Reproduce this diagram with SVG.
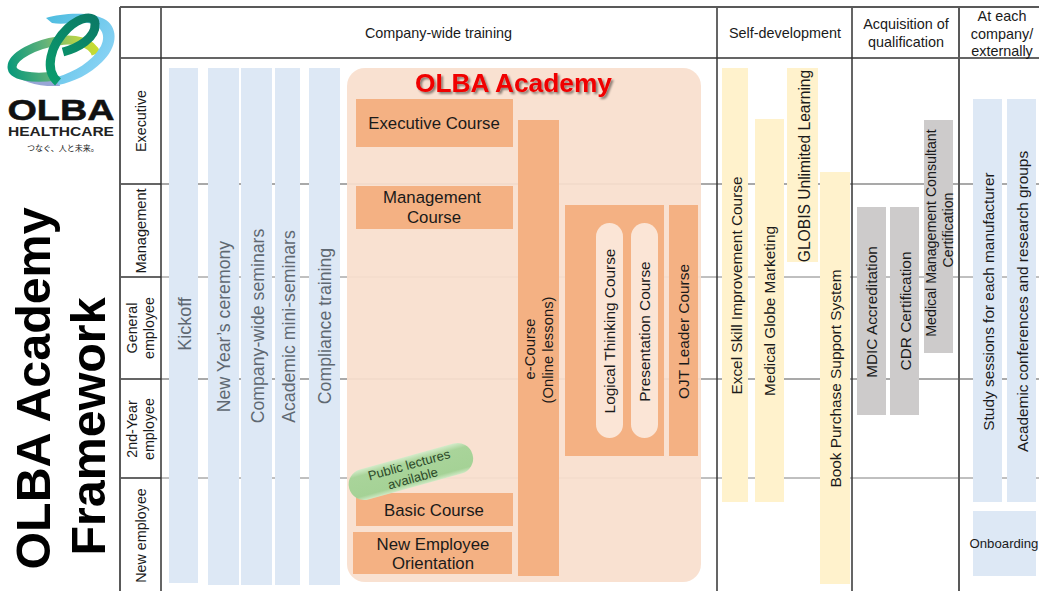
<svg xmlns="http://www.w3.org/2000/svg" width="1039" height="591" viewBox="0 0 1039 591">
<defs>
<filter id="sh" x="-10%" y="-30%" width="120%" height="160%"><feDropShadow dx="2" dy="2" stdDeviation="1.2" flood-color="#000" flood-opacity=".45"/></filter>
<linearGradient id="pill" x1="0" y1="0" x2="0" y2="1"><stop offset="0" stop-color="#d3ebc9"/><stop offset=".2" stop-color="#a9d49a"/><stop offset=".85" stop-color="#a5d296"/><stop offset="1" stop-color="#cfe9c4"/></linearGradient>
<linearGradient id="g1" gradientUnits="userSpaceOnUse" x1="10" y1="70" x2="97" y2="50"><stop offset="0" stop-color="#0b9a7a"/><stop offset=".45" stop-color="#62b27a"/><stop offset=".8" stop-color="#b4d24a"/><stop offset="1" stop-color="#c8dc30"/></linearGradient>
<linearGradient id="g2" gradientUnits="userSpaceOnUse" x1="50" y1="80" x2="98" y2="20"><stop offset="0" stop-color="#0a9c6c"/><stop offset="1" stop-color="#0b7a66"/></linearGradient>
<linearGradient id="g3" gradientUnits="userSpaceOnUse" x1="50" y1="15" x2="115" y2="60"><stop offset="0" stop-color="#4fbde0"/><stop offset="1" stop-color="#8dd4f6"/></linearGradient>
</defs>
<style>
text{font-family:"Liberation Sans",Arial,sans-serif;fill:#1a1a1a}
.c{text-anchor:middle}
.t{font-size:15.4px}.h{font-size:14.4px}.r{font-size:14.3px}.b{font-size:16.8px}.l{font-size:17.7px;fill:#5f6872}
.blue{fill:#dde8f5}.yel{fill:#fff2cc}.gry{fill:#cdcbcb}.org{fill:#f4b183}
.grid{stroke:#595959;stroke-width:2;fill:none}
.dk{stroke:#333;stroke-width:1.5;fill:none}
.rl{stroke:#a9a9a9;stroke-width:2;fill:none}
.rd{stroke:#808080;stroke-width:1;fill:none}
</style>
<g id="connectors-grid">
<path class="rl" d="M161 184H1039M161 379H1039"/>
<path class="rd" d="M161 277H1039M161 478H1039"/>
<path class="dk" d="M120 184H161M120 277H161M120 379H161M120 478H161M120 58H1039M161 7V591M717 7V591M852 7V591"/>
<path class="grid" d="M120 7H1039M120 7V591M959 7V591"/>
</g>
<g id="logo">
<path d="M10 70C20 82 38 87 60 86L58 78C40 80 22 78 10 70Z" fill="#98a6d6"/>
<path d="M96 54C92 42 74 38 58 41C36 44 12 56 12 67C12 76 32 79 56 76" fill="none" stroke="url(#g1)" stroke-width="9"/>
<path d="M46 18C62 13 92 11 106 20C119 29 117 48 102 62C90 74 74 82 58 85L57 77C74 72 92 62 101 46C107 34 100 25 88 23C76 22 62 25 52 23Z" fill="url(#g3)"/>
<path d="M58 82C44 70 50 45 68 28C80 17 95 14 95 24C96 38 78 48 63 52" fill="none" stroke="url(#g2)" stroke-width="9"/>
<text x="61" y="120" class="c" style="font-size:30px;font-weight:700;fill:#111;stroke:#111;stroke-width:.5" textLength="107" lengthAdjust="spacingAndGlyphs">OLBA</text>
<text x="61" y="136" class="c" style="font-size:13.5px;font-weight:700;fill:#222" textLength="106" lengthAdjust="spacingAndGlyphs">HEALTHCARE</text>
<text x="63" y="151" class="c" style="font-size:8px;font-family:'Noto Sans CJK JP','Liberation Sans',sans-serif;fill:#222">つなぐ、人と未来。</text>
</g>
<text id="title1" transform="translate(50,388.5) rotate(-90)" class="c" style="font-size:48.4px;font-weight:700;fill:#000">OLBA Academy</text>
<text id="title2" transform="translate(105,426.5) rotate(-90)" class="c" style="font-size:48.4px;font-weight:700;fill:#000">Framework</text>

<g id="bars-left">
<g id="n-kickoff"><rect class="blue" x="169" y="68" width="29" height="515"/><text class="l c" style="font-size:18px" transform="translate(191,324) rotate(-90)">Kickoff</text></g>
<g id="n-newyear"><rect class="blue" x="208" y="68" width="31" height="517"/><text class="l c" transform="translate(230,326.5) rotate(-90)">New Year’s ceremony</text></g>
<g id="n-seminars"><rect class="blue" x="241" y="68" width="31" height="517"/><text class="l c" transform="translate(264,326) rotate(-90)">Company-wide seminars</text></g>
<g id="n-mini"><rect class="blue" x="275" y="68" width="25" height="517"/><text class="l c" transform="translate(295,326.5) rotate(-90)">Academic mini-seminars</text></g>
<g id="n-compliance"><rect class="blue" x="309" y="68" width="31" height="517"/><text class="l c" transform="translate(331,326) rotate(-90)">Compliance training</text></g>
</g>

<g id="n-academy"><rect fill="#f9dfcd" fill-opacity=".93" x="347" y="68" width="354" height="514" rx="18"/>
<text x="513.5" y="92" class="c" filter="url(#sh)" style="font-size:26.3px;font-weight:700;fill:#f00000">OLBA Academy</text></g>

<g id="n-exec"><rect class="org" x="356" y="99" width="157" height="48"/><text class="b c" x="434" y="129">Executive Course</text></g>
<g id="n-mgmt"><rect class="org" x="356" y="186" width="157" height="43"/><text class="b c" x="432" y="203">Management</text><text class="b c" x="434" y="223">Course</text></g>
<g id="n-ecourse"><rect class="org" x="518" y="120" width="41" height="456"/><text class="t c" style="font-size:14.8px" transform="translate(535,349) rotate(-90)">e-Course</text><text class="t c" style="font-size:14.8px" transform="translate(553,350) rotate(-90)">(Online lessons)</text></g>
<g id="n-group"><rect class="org" x="565" y="205" width="99" height="251"/></g>
<g id="n-logical"><rect fill="#fbe5d6" x="596" y="223" width="27" height="215" rx="13.5"/><text class="t c" transform="translate(615,331) rotate(-90)">Logical Thinking Course</text></g>
<g id="n-present"><rect fill="#fbe5d6" x="631" y="223" width="27" height="215" rx="13.5"/><text class="t c" transform="translate(650,331.5) rotate(-90)">Presentation Course</text></g>
<g id="n-ojt"><rect class="org" x="669" y="205" width="29" height="251"/><text class="t c" transform="translate(689,331.5) rotate(-90)">OJT Leader Course</text></g>
<g id="n-basic"><rect class="org" x="356" y="493" width="157" height="33"/><text class="b c" x="434" y="516">Basic Course</text></g>
<g id="n-orient"><rect class="org" x="353" y="532" width="159" height="42"/><text class="b c" x="433" y="550">New Employee</text><text class="b c" x="433" y="569">Orientation</text></g>
<g id="n-public" transform="rotate(-15.5 411 472)"><rect x="347" y="456" width="128" height="31" rx="15.5" fill="url(#pill)"/><text x="411" y="469" class="c" style="font-size:13px;fill:#2d4a2a">Public lectures</text><text x="411" y="483" class="c" style="font-size:13px;fill:#2d4a2a">available</text></g>

<g id="n-excel"><rect class="yel" x="722" y="68" width="26" height="434"/><text class="t c" transform="translate(742,285.5) rotate(-90)">Excel Skill Improvement Course</text></g>
<g id="n-globe"><rect class="yel" x="755" y="119" width="29" height="383"/><text class="t c" transform="translate(775,311) rotate(-90)">Medical Globe Marketing</text></g>
<g id="n-globis"><rect class="yel" x="787" y="68" width="31" height="194"/><text class="t c" style="font-size:15.6px" transform="translate(810,166) rotate(-90)">GLOBIS Unlimited Learning</text></g>
<g id="n-book"><rect class="yel" x="820" y="172" width="30" height="412"/><text class="t c" transform="translate(841,378.5) rotate(-90)">Book Purchase Support System</text></g>

<g id="n-mdic"><rect class="gry" x="857" y="207" width="29" height="208"/><text class="t c" transform="translate(877,312) rotate(-90)">MDIC Accreditation</text></g>
<g id="n-cdr"><rect class="gry" x="890" y="207" width="29" height="208"/><text class="t c" transform="translate(911,311) rotate(-90)">CDR Certification</text></g>
<g id="n-mmcc"><rect class="gry" x="924" y="120" width="29" height="233"/><text class="c" style="font-size:14.2px" transform="translate(936,233) rotate(-90)">Medical Management Consultant</text><text class="c" style="font-size:14.2px" transform="translate(953,230) rotate(-90)">Certification</text></g>

<g id="n-study"><rect class="blue" x="973" y="99" width="29" height="403"/><text class="t c" transform="translate(994,301.5) rotate(-90)">Study sessions for each manufacturer</text></g>
<g id="n-conf"><rect class="blue" x="1007" y="99" width="29" height="403"/><text class="t c" transform="translate(1028,301.5) rotate(-90)">Academic conferences and research groups</text></g>
<g id="n-onboard"><rect class="blue" x="973" y="511" width="63" height="65"/><text class="c" style="font-size:13.2px" x="1004" y="548">Onboarding</text></g>

<g id="headers">
<text class="h c" x="438.5" y="38">Company-wide training</text>
<text class="h c" x="785" y="38">Self-development</text>
<text class="h c" x="906" y="29">Acquisition of</text><text class="h c" x="906" y="47">qualification</text>
<text class="h c" x="1002" y="21">At each</text><text class="h c" x="1002" y="39">company/</text><text class="h c" x="1002" y="56">externally</text>
<text class="r c" transform="translate(146,121) rotate(-90)">Executive</text>
<text class="r c" style="font-size:14.6px" transform="translate(146,231) rotate(-90)">Management</text>
<text class="r c" transform="translate(137,328) rotate(-90)">General</text><text class="r c" transform="translate(154,328) rotate(-90)">employee</text>
<text class="r c" transform="translate(137,429) rotate(-90)">2nd-Year</text><text class="r c" transform="translate(154,429) rotate(-90)">employee</text>
<text class="r c" transform="translate(146,535.5) rotate(-90)">New employee</text>
</g>
</svg>
